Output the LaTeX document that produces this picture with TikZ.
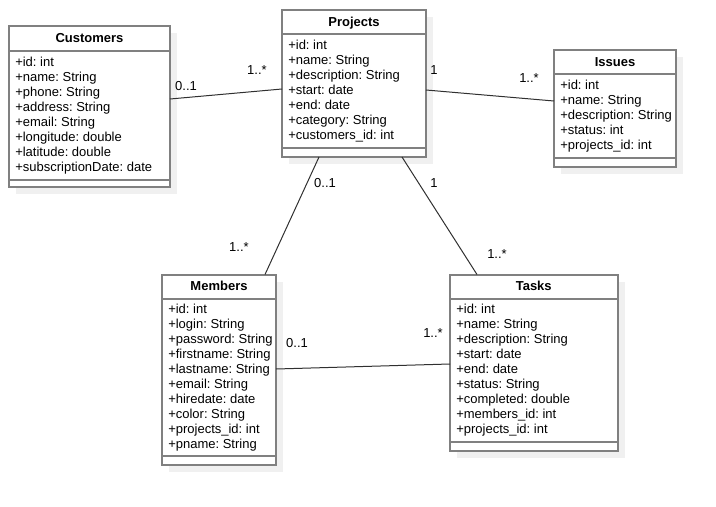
\documentclass[tikz,border=0pt]{standalone}
\usepackage{fontspec}
\setmainfont{Liberation Sans}
\usetikzlibrary{fit}
\frenchspacing
\definecolor{boxgray}{HTML}{808080}
\definecolor{shadowc}{HTML}{F0F0F0}
\definecolor{linec}{HTML}{303030}
\tikzset{
  classbox/.style={draw=boxgray, line width=1.5pt, fill=white, inner sep=0pt, outer sep=0pt},
  classline/.style={draw=boxgray, line width=1.5pt},
  titletext/.style={font=\fontsize{9.75}{11}\selectfont\bfseries, anchor=base, inner sep=0pt},
  attrtext/.style={font=\fontsize{9.75}{11}\selectfont, anchor=base west, inner sep=0pt},
  multlabel/.style={font=\fontsize{9.75}{11}\selectfont, anchor=center, inner sep=0pt},
  assoc/.style={draw=linec, line width=0.75pt},
}
\newcommand\umlclass[9]{%
  \fill[shadowc] (#2+7,#3+7) rectangle (#4+7,#5+7);
  \node[classbox, fit={(#2,#3) (#4,#5)}] (#1) {};
  \draw[classline] (#2,#6) -- (#4,#6);
  \draw[classline] (#2,#7) -- (#4,#7);
  \node[titletext] (#1-title) at ({(#2+#4)/2},#6-8) {#8};
  \foreach \t [count=\i] in {#9}
    \node[attrtext] (#1-a\i) at (#2+6,{#6+15.3+15*(\i-1)}) {\t};
}
\begin{document}
\begin{tikzpicture}[x=0.75pt,y=-0.75pt]
\useasboundingbox (0,0) rectangle (716,506);
\umlclass{cust}{9}{26}{170}{187}{51}{179.5}{Customers}{+id: int,+name: String,+phone: String,+address: String,+email: String,+longitude: double,+latitude: double,+subscriptionDate: date}
\umlclass{proj}{282}{10.5}{426}{157}{34.5}{147.5}{Projects}{+id: int,+name: String,+description: String,+start: date,+end: date,+category: String,+customers\_id: int}
\umlclass{iss}{554}{50.5}{676}{167}{74.5}{158}{Issues}{+id: int,+name: String,+description: String,+status: int,+projects\_id: int}
\umlclass{memb}{162}{274.5}{276}{464.5}{298.5}{456}{Members}{+id: int,+login: String,+password: String,+firstname: String,+lastname: String,+email: String,+hiredate: date,+color: String,+projects\_id: int,+pname: String}
\umlclass{task}{450}{274.5}{617.5}{451}{298.5}{442}{Tasks}{+id: int,+name: String,+description: String,+start: date,+end: date,+status: String,+completed: double,+members\_id: int,+projects\_id: int}

\draw[assoc] (cust.east |- 0,99) -- (proj.west |- 0,89);
\draw[assoc] (proj.east |- 0,90) -- (iss.west |- 0,101);
\draw[assoc] (proj.south -| 319,0) -- (memb.north -| 265,0);
\draw[assoc] (proj.south -| 402,0) -- (task.north -| 477,0);
\draw[assoc] (memb.east |- 0,369) -- (task.west |- 0,364);

\node[multlabel] (l1) at (186,86) {0..1};
\node[multlabel] (l2) at (257,70) {1..*};
\node[multlabel] (l3) at (434,70) {1};
\node[multlabel] (l4) at (529,78) {1..*};
\node[multlabel] (l5) at (325,183) {0..1};
\node[multlabel] (l6) at (434,183) {1};
\node[multlabel] (l7) at (239,247) {1..*};
\node[multlabel] (l8) at (497,254) {1..*};
\node[multlabel] (l9) at (297,343) {0..1};
\node[multlabel] (l10) at (433,333) {1..*};
\end{tikzpicture}
\end{document}
